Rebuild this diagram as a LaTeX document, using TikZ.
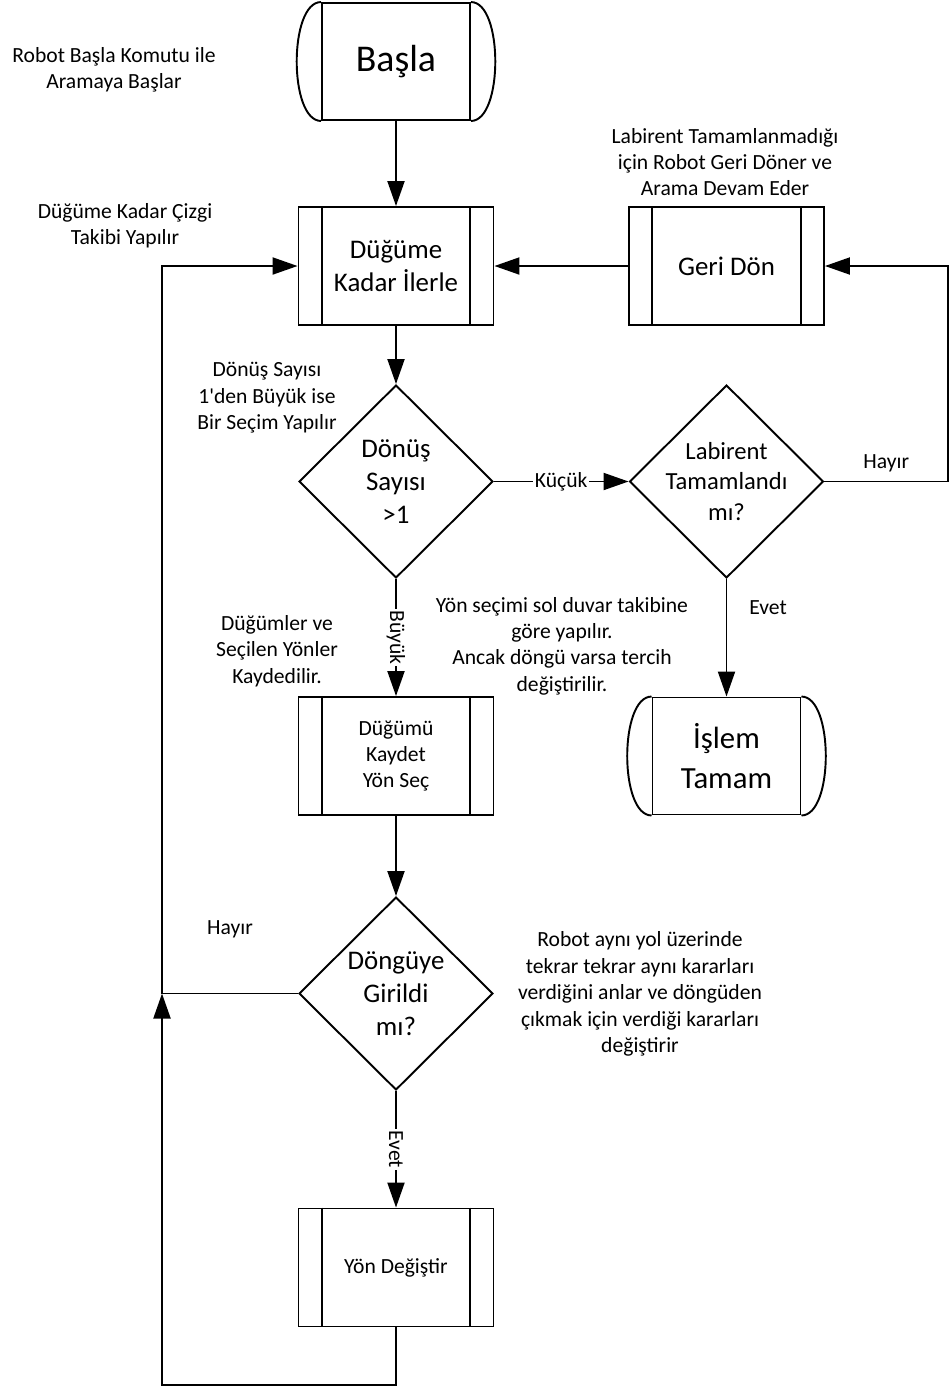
\documentclass[tikz,border=0pt]{standalone}
\usepackage{fontspec}
\setmainfont{Carlito}
\usetikzlibrary{arrows.meta,shapes.geometric}
\newcommand\fsnote{\fontsize{12.3}{15}\selectfont}
\newcommand\fsmain{\fontsize{15.3}{18.7}\selectfont}
\newcommand\fsend{\fontsize{17.5}{22.5}\selectfont}
\newcommand\fsstart{\fontsize{21.5}{26}\selectfont}
\tikzset{
  termbox/.style={draw, line width=1.1pt, minimum width=2.96cm, minimum height=2.34cm, align=center, inner sep=0pt,
    append after command={(\tikzlastnode.north west) edge[draw, line width=1.1pt, out=180, in=180, looseness=0.7] (\tikzlastnode.south west)
      (\tikzlastnode.north east) edge[draw, line width=1.1pt, out=0, in=0, looseness=0.7] (\tikzlastnode.south east)}},
  prcbox/.style={draw, line width=1.1pt, minimum width=3.9cm, minimum height=2.36cm, align=center, inner sep=0pt,
    append after command={([xshift=0.48cm]\tikzlastnode.north west) edge[draw, line width=1.1pt] ([xshift=0.48cm]\tikzlastnode.south west)
      ([xshift=-0.48cm]\tikzlastnode.north east) edge[draw, line width=1.1pt] ([xshift=-0.48cm]\tikzlastnode.south east)}},
  decision/.style={diamond, draw, line width=1.1pt, minimum width=3.88cm, minimum height=3.86cm, inner sep=0pt},
  declabel/.style={align=center, inner sep=0pt},
  note/.style={align=center, font=\fsnote, inner sep=0pt},
  elabel/.style={fill=white, font=\fsnote, inner sep=1pt},
  arrow/.style={-{Triangle[length=0.5cm, width=0.34cm]}, line width=1.1pt}
}
\begin{document}
\begin{tikzpicture}[x=0.02cm, y=-0.02cm]
  \useasboundingbox[fill=white] (0,0) rectangle (950,1387);

  % akis kutulari
  \node[termbox, font=\fsstart] (start) at (396,61.5) {Başla};
  \node[prcbox, font=\fsmain] (walk) at (396,266) {Düğüme\\Kadar İlerle};
  \node[prcbox, font=\fsmain] (back) at (726.5,266) {Geri Dön};
  \node[decision, label={[declabel, font=\fsmain]center:{Dönüş\\Sayısı\\>1}}] (turns) at (396,481.5) {};
  \node[decision, label={[declabel, font=\fontsize{14}{17.5}\selectfont]center:{Labirent\\Tamamlandı\\mı?}}] (done) at (726.5,481.5) {};
  \node[termbox, font=\fsend] (finish) at (726.5,756) {İşlem\\Tamam};
  \node[prcbox, font=\fsnote] (save) at (396,756) {Düğümü\\Kaydet\\Yön Seç};
  \node[decision, label={[declabel, font=\fsmain]center:{Döngüye\\Girildi\\mı?}}] (loop) at (396,993.5) {};
  \node[prcbox, font=\fsnote] (change) at (396,1267.5) {Yön Değiştir};

  % aciklamalar
  \node[note] (n1) at (114,70) {Robot Başla Komutu ile\\Aramaya Başlar};
  \node[note] (n2) at (725,162) {Labirent Tamamlanmadığı\\için Robot Geri Döner ve\\Arama Devam Eder};
  \node[note] (n3) at (125,226) {Düğüme Kadar Çizgi\\Takibi Yapılır};
  \node[note] (n4) at (267,398) {Dönüş Sayısı\\1\textquotesingle den Büyük ise\\Bir Seçim Yapılır};
  \node[note] (n5) at (562,646) {Yön seçimi sol duvar takibine\\göre yapılır.\\Ancak döngü varsa tercih\\değiştirilir.};
  \node[note] (n6) at (277,651) {Düğümler ve\\Seçilen Yönler\\Kaydedilir.};
  \node[note] (n7) at (640,994) {Robot aynı yol üzerinde\\tekrar tekrar aynı kararları\\verdiğini anlar ve döngüden\\çıkmak için verdiği kararları\\değiştirir};

  \coordinate (rt) at (948,266);
  \coordinate (lt) at (162,266);
  \coordinate (lb) at (162,1385);

  % baglantilar
  \draw[arrow] (start) -- (walk);
  \draw[arrow] (back) -- (walk);
  \draw[arrow] (walk) -- (turns);
  \draw[arrow] (turns) -- node[elabel]{Küçük} (done);
  \draw[arrow] (done.east) -| node[pos=0.25, font=\fsnote, yshift=0.37cm]{Hayır} (rt) -- (back.east);
  \draw[arrow] (done) -- node[pos=0.24, font=\fsnote, xshift=0.83cm]{Evet} (finish);
  \draw[arrow] (turns) -- node[elabel, rotate=-90]{Büyük} (save);
  \draw[arrow] (save) -- (loop);
  \draw[arrow] (loop) -- node[elabel, rotate=-90]{Evet} (change);
  \draw[arrow] (loop.west) -| node[pos=0.25, font=\fsnote, yshift=1.28cm]{Hayır} (lt) -- (walk.west);
  \draw[arrow] (change.south) |- (lb) -- (lb |- loop.west);
\end{tikzpicture}
\end{document}
